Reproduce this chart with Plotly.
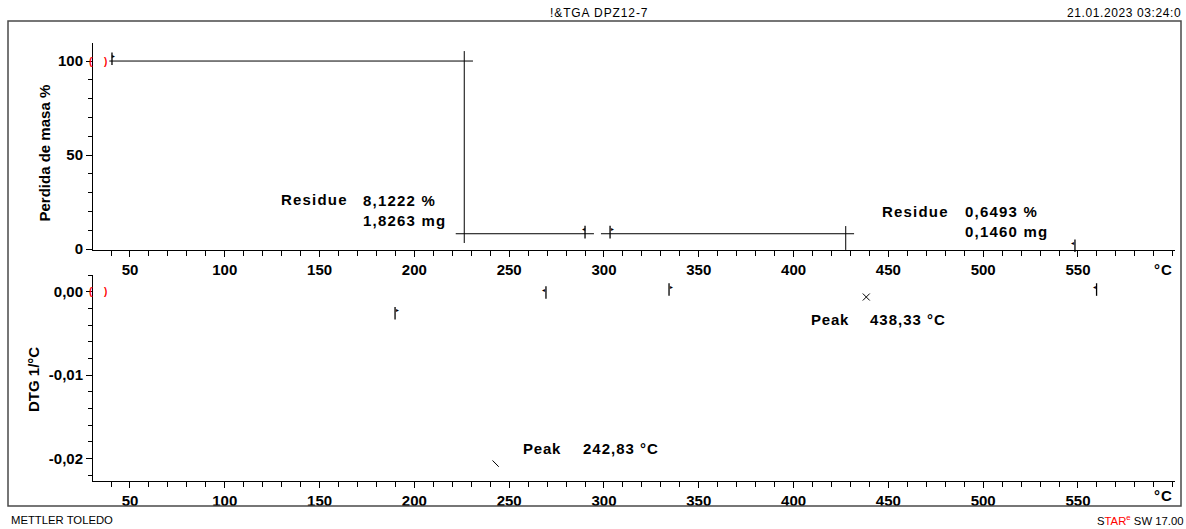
import plotly.graph_objects as go

W, H = 1186, 529
FONT = "Liberation Sans, Arial, sans-serif"

# ---------------- data ----------------
temp_range = [30.49, 600.9]          # °C
mass_range = [-0.53, 109.6]          # %
dtg_range = [-0.022717, 0.002004]    # 1/°C

temp_ticks = [50, 100, 150, 200, 250, 300, 350, 400, 450, 500, 550]
temp_tick_text = ["50", "100", "150", "200", "250", "300", "350", "400",
                  "450", "500", "550"]
mass_ticks = [0, 50, 100]
mass_tick_text = ["0", "50", "100"]
dtg_ticks = [0.0, -0.01, -0.02]
dtg_tick_text = ["0,00", "-0,01", "-0,02"]

# TGA evaluation lines (residue construction)
start_T = [39.1, 230.9]
start_mass = [100.0, 100.0]
step1_T = [226.3, 226.3]
step1_mass = [105.3, 3.2]
residue1_T = [221.8, 294.7]
residue2_T = [298.4, 431.9]
residue_level = [8.1222, 8.1222]
step2_T = [427.5, 427.5]
step2_mass = [12.2, -0.5]

# curve limit markers (red brackets)
limit_T = [30.6, 37.2]
limit_text = ["(", ")"]
limit_shift = [-2, 0]
limit_mass = [100.0, 100.0]
limit_dtg = [0.0, 0.0]

# flags on the TGA curve
flag_tga_T = [40.5, 290.0, 303.2, 548.4]
flag_tga_mass = [101.2, 9.0, 9.0, 1.7]
flag_tga_dir = ["right", "left", "right", "left"]

# flags on the DTG curve
flag_dtg_T = [189.8, 269.4, 334.3, 559.8]
flag_dtg_val = [-0.00259, -0.0001, 0.00026, 0.00026]
flag_dtg_dir = ["right", "left", "right", "left"]

# DTG peaks
peak_hi_T = [438.33]
peak_hi_val = [-0.00064]
peak_lo_T = [241.2, 244.5]
peak_lo_val = [-0.02025, -0.02101]


def px_x(p):
    return p / W


def px_y(p):
    return 1 - p / H


def spaced(text, ls):
    return f'<span style="letter-spacing:{ls}px">{text}</span>'


fig = go.Figure()

line_style = dict(color="black", width=1)

for xs, ys in [(start_T, start_mass), (step1_T, step1_mass),
               (residue1_T, residue_level), (residue2_T, residue_level),
               (step2_T, step2_mass)]:
    fig.add_trace(go.Scatter(x=xs, y=ys, mode="lines", line=line_style,
                             xaxis="x", yaxis="y", hoverinfo="skip"))

fig.add_trace(go.Scatter(x=peak_lo_T, y=peak_lo_val, mode="lines",
                         line=line_style, xaxis="x2", yaxis="y2",
                         hoverinfo="skip"))
fig.add_trace(go.Scatter(x=peak_hi_T, y=peak_hi_val, mode="markers",
                         marker=dict(symbol="x-thin-open", size=7,
                                     color="black",
                                     line=dict(color="black", width=1)),
                         xaxis="x2", yaxis="y2", hoverinfo="skip"))

annotations = []

# red limit brackets
for ya, vals in [("y", limit_mass), ("y2", limit_dtg)]:
    xa = "x" if ya == "y" else "x2"
    for t, v, s, sh in zip(limit_T, vals, limit_text, limit_shift):
        annotations.append(dict(
            x=t, y=v, xref=xa, yref=ya, showarrow=False, text=s, xshift=sh,
            font=dict(color="red", size=10, family=FONT, weight="bold"),
            xanchor="center", yanchor="middle"))

# flags: stick as marker, pennant as small glyph
for xs, ys, dirs, xa, ya in [(flag_tga_T, flag_tga_mass, flag_tga_dir, "x", "y"),
                             (flag_dtg_T, flag_dtg_val, flag_dtg_dir, "x2", "y2")]:
    fig.add_trace(go.Scatter(x=xs, y=ys, mode="markers",
                             marker=dict(symbol="line-ns", size=9,
                                         line=dict(color="black", width=1.3)),
                             xaxis=xa, yaxis=ya, hoverinfo="skip",
                             cliponaxis=False))
    for t, v, d in zip(xs, ys, dirs):
        annotations.append(dict(
            x=t, y=v, xref=xa, yref=ya, showarrow=False,
            text="►" if d == "right" else "◄",
            font=dict(size=5, color="black", family=FONT),
            xshift=2 if d == "right" else -2, yshift=3))

# text labels
bold15 = dict(family=FONT, size=15, color="black", weight="bold")


def add_label(text, x, y, xref, yref, xanchor, ls=1.2):
    annotations.append(dict(
        x=x, y=y, xref=xref, yref=yref, showarrow=False, xanchor=xanchor,
        yanchor="middle", align="left", text=spaced(text, ls), font=bold15))


add_label("Residue", 166.0, 26.1, "x", "y", "right")
add_label("8,1222 %<br>1,8263 mg", 171.7, 20.4, "x", "y", "left")
add_label("Residue", 483.0, 19.8, "x", "y", "right")
add_label("0,6493 %<br>0,1460 mg", 489.3, 14.5, "x", "y", "left")
add_label("Peak", 430.3, -0.003276, "x2", "y2", "right", 0.8)
add_label("438,33 °C", 439.2, -0.003276, "x2", "y2", "left", 1.0)
add_label("Peak", 278.4, -0.018757, "x2", "y2", "right", 0.8)
add_label("242,83 °C", 287.9, -0.018757, "x2", "y2", "left", 1.0)

# axis unit labels at the end of the temperature axes
for yp in [269, 495]:
    annotations.append(dict(x=px_x(1175), y=px_y(yp), xref="paper", yref="paper",
                            showarrow=False, xanchor="right", yanchor="middle",
                            text=spaced("°C", 1), font=bold15))

# axis titles
annotations.append(dict(x=px_x(43.5), y=px_y(153), xref="paper", yref="paper",
                        showarrow=False, textangle=-90, text="Perdida de masa %",
                        font=bold15, xanchor="center", yanchor="middle"))
annotations.append(dict(x=px_x(33), y=px_y(380), xref="paper", yref="paper",
                        showarrow=False, textangle=-90, text="DTG 1/°C",
                        font=bold15, xanchor="center", yanchor="middle"))

# header / footer
plain = dict(family=FONT, size=12, color="black")
annotations.append(dict(x=px_x(599), y=px_y(13), xref="paper", yref="paper",
                        showarrow=False, xanchor="center", yanchor="middle",
                        text=spaced("!&TGA DPZ12-7", 0.9), font=plain))
annotations.append(dict(x=px_x(1183), y=px_y(13), xref="paper", yref="paper",
                        showarrow=False, xanchor="right", yanchor="middle",
                        text=spaced("21.01.2023 03:24:0", 0.6), font=plain))
annotations.append(dict(x=px_x(9), y=px_y(520), xref="paper", yref="paper",
                        showarrow=False, xanchor="left", yanchor="middle",
                        text="METTLER TOLEDO",
                        font=dict(family=FONT, size=11.3, color="black")))
annotations.append(dict(x=px_x(1185), y=px_y(520), xref="paper", yref="paper",
                        showarrow=False, xanchor="right", yanchor="middle",
                        text='S<span style="color:red">TAR<sup>e</sup></span> SW 17.00',
                        font=dict(family=FONT, size=11.3, color="black")))

axis_common = dict(showline=True, linecolor="black", linewidth=1,
                   showgrid=False, zeroline=False, ticks="outside",
                   tickcolor="black", tickwidth=1, tickfont=bold15,
                   tickmode="array", automargin=False)

x_dom = [px_x(93), px_x(1174.5)]
xaxis_kw = dict(axis_common, domain=x_dom, range=temp_range,
                tickvals=temp_ticks, ticktext=temp_tick_text, ticklen=6,
                minor=dict(dtick=10, tick0=0, ticklen=5, ticks="outside",
                           tickcolor="black"))

fig.update_layout(
    width=W, height=H, autosize=False,
    margin=dict(l=0, r=0, t=0, b=0, pad=0),
    paper_bgcolor="white", plot_bgcolor="white",
    showlegend=False,
    xaxis=dict(xaxis_kw, anchor="y"),
    yaxis=dict(axis_common, domain=[px_y(250), px_y(43)], range=mass_range,
               anchor="x", tickvals=mass_ticks, ticktext=mass_tick_text,
               ticklen=6,
               minor=dict(dtick=10, tick0=0, ticklen=4, ticks="outside",
                          tickcolor="black")),
    xaxis2=dict(xaxis_kw, anchor="y2"),
    yaxis2=dict(axis_common, domain=[px_y(481), px_y(275)], range=dtg_range,
                anchor="x2", tickvals=dtg_ticks, ticktext=dtg_tick_text,
                ticklen=6,
                minor=dict(dtick=0.002, tick0=0, ticklen=4, ticks="outside",
                           tickcolor="black")),
    annotations=annotations,
    shapes=[dict(type="rect", xref="paper", yref="paper",
                 x0=px_x(8), x1=px_x(1181), y0=px_y(506), y1=px_y(21),
                 line=dict(color="#4a4a4a", width=1.5))],
)

fig.write_html("out.html")
